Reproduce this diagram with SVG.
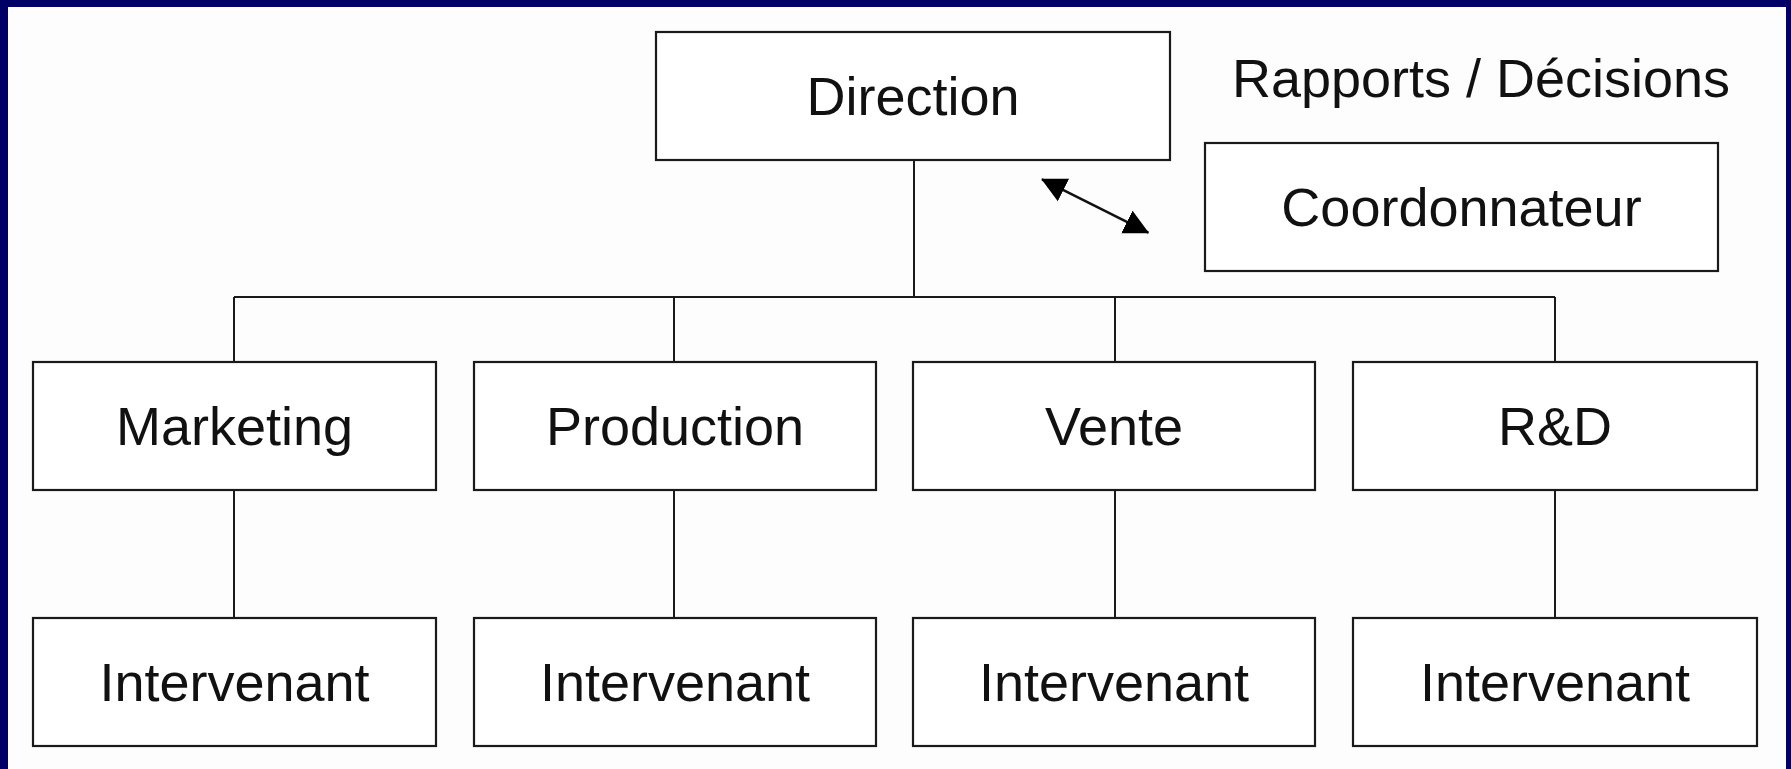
<svg xmlns="http://www.w3.org/2000/svg" width="1791" height="769" viewBox="0 0 1791 769">
  <style>
    .box { fill: #ffffff; stroke: #1a1a1a; stroke-width: 2.2; }
    .lbl { font-family: "Liberation Sans", Arial, sans-serif; font-size: 54px; fill: #111111; text-anchor: middle; }
    .link { fill: none; stroke: #1a1a1a; stroke-width: 2; }
    .dbl { fill: none; stroke: #111111; stroke-width: 2.6; }
  </style>
  <defs>
    <marker id="head" markerUnits="userSpaceOnUse" viewBox="0 -13 25 26" refX="24" refY="0" markerWidth="25" markerHeight="26" orient="auto-start-reverse">
      <path d="M0,-12.6 L25,0 L0,12.6 Z" fill="#000000"/>
    </marker>
  </defs>

  <!-- frame -->
  <rect x="0" y="0" width="1791" height="769" fill="#000066"/>
  <rect x="8" y="7" width="1778" height="762" fill="#fdfdfd"/>

  <!-- connectors -->
  <g id="connectors">
    <line class="link" x1="914" y1="160" x2="914" y2="297"/>
    <line class="link" x1="234" y1="297" x2="1555" y2="297"/>
    <line class="link" x1="234" y1="297" x2="234" y2="362"/>
    <line class="link" x1="674" y1="297" x2="674" y2="362"/>
    <line class="link" x1="1115" y1="297" x2="1115" y2="362"/>
    <line class="link" x1="1555" y1="297" x2="1555" y2="362"/>
    <line class="link" x1="234" y1="490" x2="234" y2="618"/>
    <line class="link" x1="674" y1="490" x2="674" y2="618"/>
    <line class="link" x1="1115" y1="490" x2="1115" y2="618"/>
    <line class="link" x1="1555" y1="490" x2="1555" y2="618"/>
    <line class="dbl" x1="1042" y1="179.3" x2="1148.3" y2="232.7" marker-start="url(#head)" marker-end="url(#head)"/>
  </g>

  <g id="direction">
    <rect class="box" x="656" y="32" width="514" height="128"/>
    <text class="lbl" x="913" y="115">Direction</text>
  </g>

  <g id="rapports">
    <text class="lbl" x="1481" y="97">Rapports / Décisions</text>
  </g>

  <g id="coordonnateur">
    <rect class="box" x="1205" y="143" width="513" height="128"/>
    <text class="lbl" x="1461.5" y="226">Coordonnateur</text>
  </g>

  <g id="marketing">
    <rect class="box" x="33" y="362" width="403" height="128"/>
    <text class="lbl" x="234.5" y="445">Marketing</text>
  </g>
  <g id="production">
    <rect class="box" x="474" y="362" width="402" height="128"/>
    <text class="lbl" x="675" y="445">Production</text>
  </g>
  <g id="vente">
    <rect class="box" x="913" y="362" width="402" height="128"/>
    <text class="lbl" x="1114" y="445">Vente</text>
  </g>
  <g id="rd">
    <rect class="box" x="1353" y="362" width="404" height="128"/>
    <text class="lbl" x="1555" y="445">R&amp;D</text>
  </g>

  <g id="intervenant-marketing">
    <rect class="box" x="33" y="618" width="403" height="128"/>
    <text class="lbl" x="234.5" y="701">Intervenant</text>
  </g>
  <g id="intervenant-production">
    <rect class="box" x="474" y="618" width="402" height="128"/>
    <text class="lbl" x="675" y="701">Intervenant</text>
  </g>
  <g id="intervenant-vente">
    <rect class="box" x="913" y="618" width="402" height="128"/>
    <text class="lbl" x="1114" y="701">Intervenant</text>
  </g>
  <g id="intervenant-rd">
    <rect class="box" x="1353" y="618" width="404" height="128"/>
    <text class="lbl" x="1555" y="701">Intervenant</text>
  </g>
</svg>
